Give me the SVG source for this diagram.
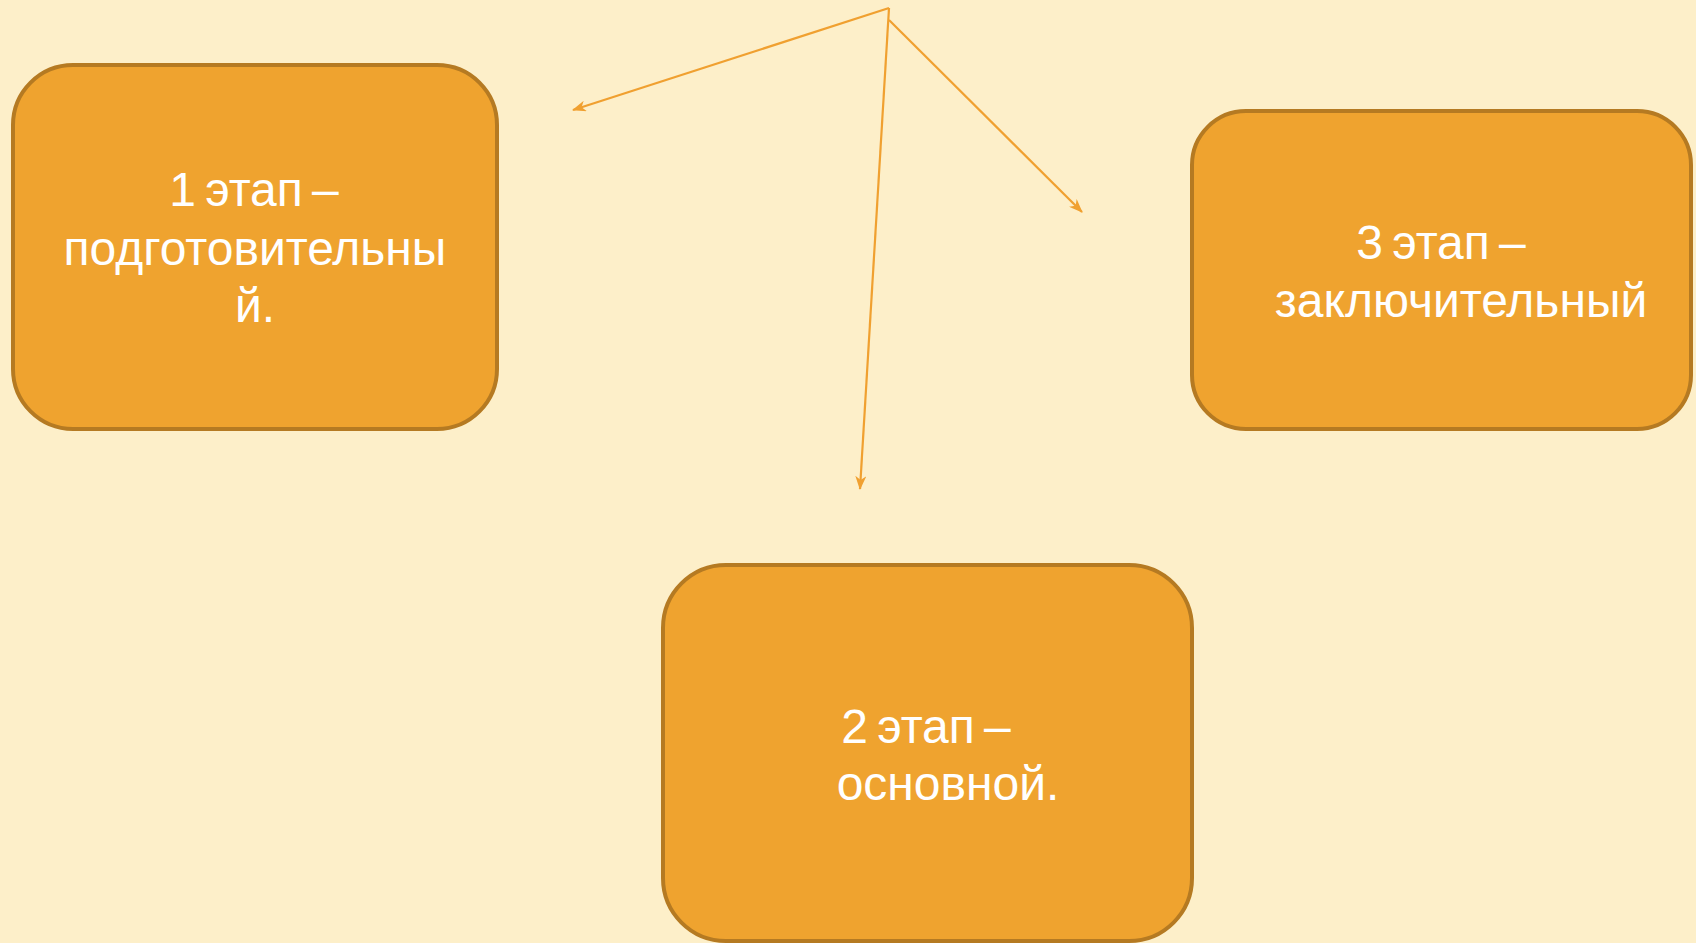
<svg xmlns="http://www.w3.org/2000/svg" width="1696" height="943" viewBox="0 0 1696 943">
  <style>
    .box { fill: #EFA32F; stroke: #B57A22; stroke-width: 4; }
    .lbl { fill: #FFFFFF; font-family: "Liberation Sans", Arial, sans-serif; font-size: 48px; text-anchor: middle; }
    .conn { stroke: #F0A030; stroke-width: 2.2; fill: none; marker-end: url(#ah); }
  </style>
  <defs>
    <marker id="ah" viewBox="0 0 14 11" refX="13" refY="5.5" markerWidth="14" markerHeight="11" markerUnits="userSpaceOnUse" orient="auto">
      <path d="M0,0 L14,5.5 L0,11 L4,5.5 Z" fill="#F0A030"/>
    </marker>
  </defs>
  <rect x="0" y="0" width="1696" height="943" fill="#FDEFC9"/>

  <g id="node-stage1">
    <rect class="box" x="13" y="65" width="484" height="364" rx="60" ry="60"/>
    <text class="lbl" x="254" y="206" word-spacing="-4">1 этап –</text>
    <text class="lbl" x="255" y="265">подготовительны</text>
    <text class="lbl" x="255" y="322">й.</text>
  </g>

  <g id="node-stage3">
    <rect class="box" x="1192" y="111" width="499" height="318" rx="54" ry="54"/>
    <text class="lbl" x="1441" y="259" word-spacing="-4">3 этап –</text>
    <text class="lbl" x="1461" y="317">заключительный</text>
  </g>

  <g id="node-stage2">
    <rect class="box" x="663" y="565" width="529" height="376" rx="63" ry="63"/>
    <text class="lbl" x="926" y="743" word-spacing="-4">2 этап –</text>
    <text class="lbl" x="948" y="800">основной.</text>
  </g>

  <g id="connectors">
    <line class="conn" x1="889" y1="8" x2="573" y2="110"/>
    <line class="conn" x1="889" y1="20" x2="1082" y2="212"/>
    <line class="conn" x1="889" y1="8" x2="860" y2="489"/>
  </g>
</svg>
